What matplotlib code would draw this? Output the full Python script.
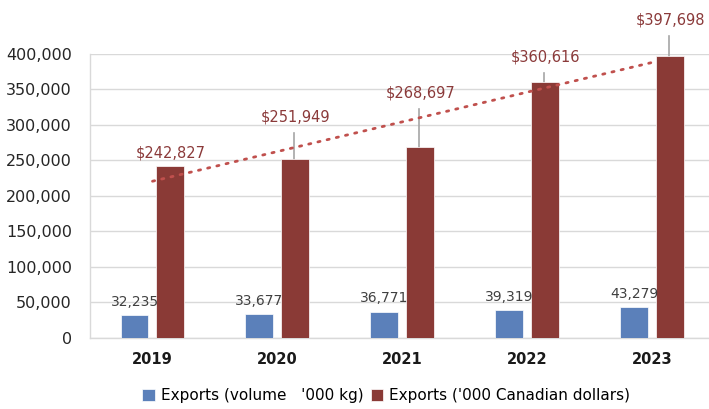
import numpy as np
import matplotlib.pyplot as plt

plt.rcParams["font.family"] = "DejaVu Sans"

years = ["2019", "2020", "2021", "2022", "2023"]
volume = [32235, 33677, 36771, 39319, 43279]
dollars = [242827, 251949, 268697, 360616, 397698]

# label heights for the dollar labels (leader lines go from bar top up to these)
dollar_label_y = [250000, 300000, 335000, 385000, 437000]

blue = "#5B80BA"
red = "#8A3A36"
trend_red = "#C0504D"

fig = plt.figure(figsize=(7.09, 4.09), dpi=100)
ax = fig.add_axes([0.127, 0.174, 0.873, 0.694])

x = np.arange(len(years))
w = 0.224
off = 0.144

ax.bar(x - off, volume, w, color=blue, edgecolor="white", linewidth=0.5, zorder=3,
       label="Exports (volume   '000 kg)")
ax.bar(x + off, dollars, w, color=red, edgecolor="white", linewidth=0.5, zorder=3,
       label="Exports ('000 Canadian dollars)")

# linear trend of the dollar series
k, b = np.polyfit(x, dollars, 1)
ax.plot(x, k * x + b, linestyle=(0, (0.8, 2.6)), color=trend_red, linewidth=2.0,
        dash_capstyle="round", zorder=4)

for xi, v in zip(x, volume):
    ax.text(xi - off, v + 9000, f"{v:,}", ha="center", va="bottom",
            fontsize=10, color="#404040", zorder=5)

for xi, v, ly in zip(x, dollars, dollar_label_y):
    if ly - v > 20000:
        ax.plot([xi + off - 0.01, xi + off - 0.01], [v, ly - 12000],
                color="#A6A6A6", linewidth=1.2, zorder=2, clip_on=False)
    ax.text(xi + off, ly, f"${v:,}", ha="center", va="bottom",
            fontsize=10.5, color="#8B3A3A", zorder=5, clip_on=False)

ax.set_xlim(-0.5, 4.456)
ax.set_ylim(0, 400000)
ax.set_yticks(np.arange(0, 400001, 50000))
ax.set_yticklabels([f"{t:,}" for t in range(0, 400001, 50000)], fontsize=11.5, color="#262626")
ax.set_xticks(x)
ax.set_xticklabels(years, fontsize=10.5, fontweight="bold", color="#1a1a1a")
ax.tick_params(axis="both", length=0)
ax.tick_params(axis="x", pad=10)
ax.tick_params(axis="y", pad=13)

ax.grid(axis="y", color="#D9D9D9", linewidth=1, zorder=0)
for s in ["top", "right"]:
    ax.spines[s].set_visible(False)
for s in ["left", "bottom"]:
    ax.spines[s].set_color("#D9D9D9")
    ax.spines[s].set_linewidth(1)

fig.legend(loc="lower center", bbox_to_anchor=(0.545, -0.02), ncol=2, frameon=False,
           fontsize=11, handlelength=0.8, handleheight=0.8, handletextpad=0.4,
           columnspacing=0.5)

fig.savefig("out.png", dpi=100)
